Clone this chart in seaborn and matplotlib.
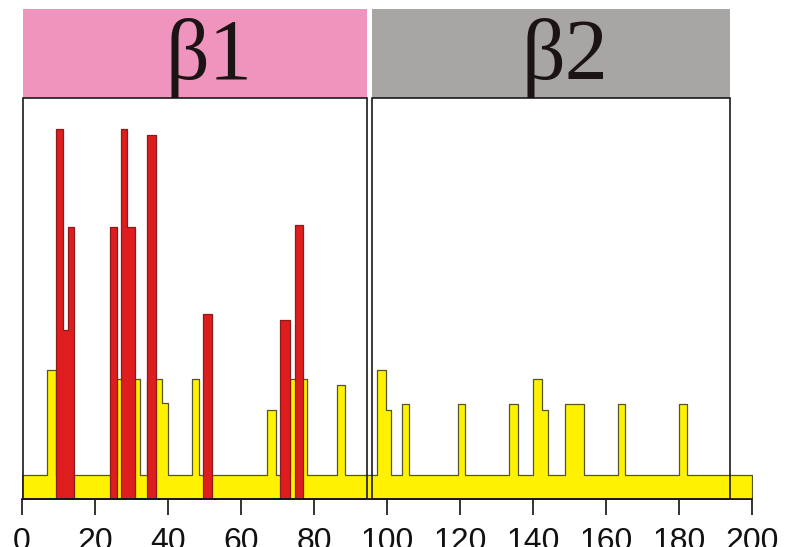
import numpy as np
import pandas as pd
import matplotlib
matplotlib.use("Agg")
import matplotlib.pyplot as plt
from matplotlib.patches import Rectangle
import seaborn as sns

# Background (yellow) profile: bin edges along the sequence and bin heights
bg_edges = [0, 7.0, 9.31, 26.17, 32.38, 34.22, 38.33, 39.99, 46.54, 48.54,
            67.23, 69.61, 73.45, 78.18, 86.39, 88.5, 97.18, 99.64, 101.1,
            104.02, 106.1, 119.35, 121.35, 133.48, 135.78, 140.05, 142.35,
            143.99, 148.73, 154.01, 163.15, 165.15, 179.93, 182.04, 200]
bg_heights = [6, 32.25, 6, 30, 6, 30, 24, 6, 30, 6,
              22.25, 6, 30, 6, 28.5, 6, 32.25, 22.25, 6,
              23.75, 6, 23.75, 6, 23.75, 6, 30, 22.25,
              6, 23.75, 6, 23.75, 6, 23.75, 6]

# Highlighted (red) profile inside the first segment
hit_edges = [9.31, 11.22, 12.59, 14.40, 24.17, 26.17, 27.18, 28.91, 31.02,
             34.22, 36.76, 49.71, 52.1, 70.71, 73.45, 74.82, 76.92]
hit_heights = [92.4, 42.25, 68.1, 0, 68.1, 0, 92.4, 68.1, 0,
               91, 0, 46.25, 0, 44.75, 0, 68.5]

# Segments and their header strips
seg_names = ["\u03b21", "\u03b22"]
seg_starts = [0.3, 95.8]
seg_ends = [94.5, 194.0]
seg_colors = ["#EF95BD", "#A8A6A4"]

tick_values = list(range(0, 201, 20))
tick_labels = [str(v) for v in tick_values]

sns.set_style("white")
plt.rcParams["font.family"] = ["Liberation Sans", "DejaVu Sans"]

fig = plt.figure(figsize=(8.07, 5.47), dpi=100)
ax = fig.add_axes([21.7 / 807, 48 / 547, 730.6 / 807, 400 / 547])


def centers(edges):
    e = np.asarray(edges, dtype=float)
    return (e[:-1] + e[1:]) / 2


bg = pd.DataFrame({"pos": centers(bg_edges), "h": bg_heights})
hit = pd.DataFrame({"pos": centers(hit_edges), "h": hit_heights})

sns.histplot(data=bg, x="pos", weights="h", bins=bg_edges, element="step",
             fill=True, stat="count", facecolor="#FFF200", edgecolor="#55552a",
             linewidth=0.9, alpha=1, ax=ax, zorder=1)
sns.histplot(data=hit, x="pos", weights="h", bins=hit_edges, element="step",
             fill=True, stat="count", facecolor="#DE1E1E", edgecolor="#8E1A1A",
             linewidth=0.9, alpha=1, ax=ax, zorder=2)

ax.set_xlim(0, 200)
ax.set_ylim(0, 100)
ax.set_xlabel("")
ax.set_ylabel("")
ax.set_yticks([])
ax.set_xticks(tick_values)
ax.set_xticklabels(tick_labels)
ax.tick_params(axis="x", bottom=True, direction="out", length=11.5,
               width=1.2, pad=8.5, labelsize=23, colors="#111111")

for side in ["left", "right", "top"]:
    ax.spines[side].set_visible(False)
ax.spines["bottom"].set_bounds(0, 200)
ax.spines["bottom"].set_linewidth(1.2)
ax.spines["bottom"].set_color("#111111")

for name, x0, x1, col in zip(seg_names, seg_starts, seg_ends, seg_colors):
    # header strip above the panel
    ax.add_patch(Rectangle((x0, 100.2), x1 - x0, 22.2, facecolor=col,
                           edgecolor="none", clip_on=False, zorder=3))
    # panel frame
    ax.add_patch(Rectangle((x0, 0), x1 - x0, 100.2, facecolor="none",
                           edgecolor="#1a1a1a", linewidth=1.2,
                           clip_on=False, zorder=5))
    ax.text((x0 + x1) / 2 + 3.8, 105.0, name, ha="center", va="baseline",
            fontsize=62, family=["Liberation Serif", "DejaVu Serif"],
            color="#1c1414", zorder=6, clip_on=False)

fig.savefig("out.png", dpi=100)
